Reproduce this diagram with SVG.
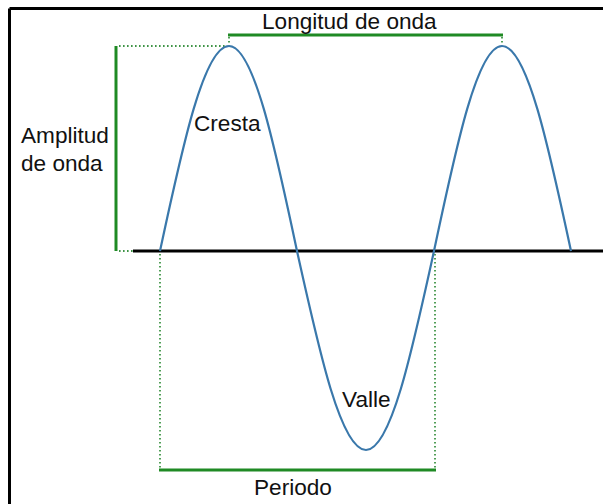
<svg xmlns="http://www.w3.org/2000/svg" width="603" height="504" viewBox="0 0 603 504">
<style>
text{font-family:"Liberation Sans",Arial,sans-serif;font-size:22.6px;fill:#111}
.g{stroke:#1f8a24;stroke-width:3;fill:none}
.d{stroke:#3f9446;stroke-width:1.8;stroke-dasharray:1.6 2.4;fill:none}
.w{stroke:#3a78ab;stroke-width:2.2;fill:none}
.k{stroke:#000;stroke-width:3;fill:none}
</style>
<rect width="603" height="504" fill="#fff"/>
<g id="frame">
<line class="k" x1="9.5" y1="8.5" x2="603" y2="8.5"/>
<line class="k" x1="9.5" y1="8.5" x2="9.5" y2="504"/>
</g>
<g id="connectors">
<line class="k" x1="133" y1="251" x2="603" y2="251"/>
<line class="g" x1="116" y1="46" x2="116" y2="251"/>
<line class="d" x1="119" y1="46" x2="227" y2="46"/>
<line class="d" x1="119" y1="251" x2="133" y2="251"/>
<line class="g" x1="228" y1="35" x2="503" y2="35"/>
<line class="d" x1="229" y1="37" x2="229" y2="44"/>
<line class="d" x1="502" y1="37" x2="502" y2="44"/>
<line class="g" x1="159" y1="470" x2="436" y2="470"/>
<line class="d" x1="160" y1="254" x2="160" y2="468"/>
<line class="d" x1="435" y1="254" x2="435" y2="468"/>
</g>
<g id="wave">
<path class="w" d="M160,251 C182.5,146 204.1,46 229,46 C253.5,46 274.8,146 297,251 C319.5,352.9 341.1,450 366,450 C390.5,450 411.8,352.9 434,251 C456.2,146 477.5,46 502,46 C526.9,46 548.5,146 571,251"/>
</g>
<g id="longitud"><text x="262" y="29">Longitud de onda</text></g>
<g id="amplitud"><text x="21" y="143">Amplitud</text><text x="21" y="171">de onda</text></g>
<g id="cresta"><text x="194" y="131">Cresta</text></g>
<g id="valle"><text x="342" y="407">Valle</text></g>
<g id="periodo"><text x="254" y="495">Periodo</text></g>
</svg>
